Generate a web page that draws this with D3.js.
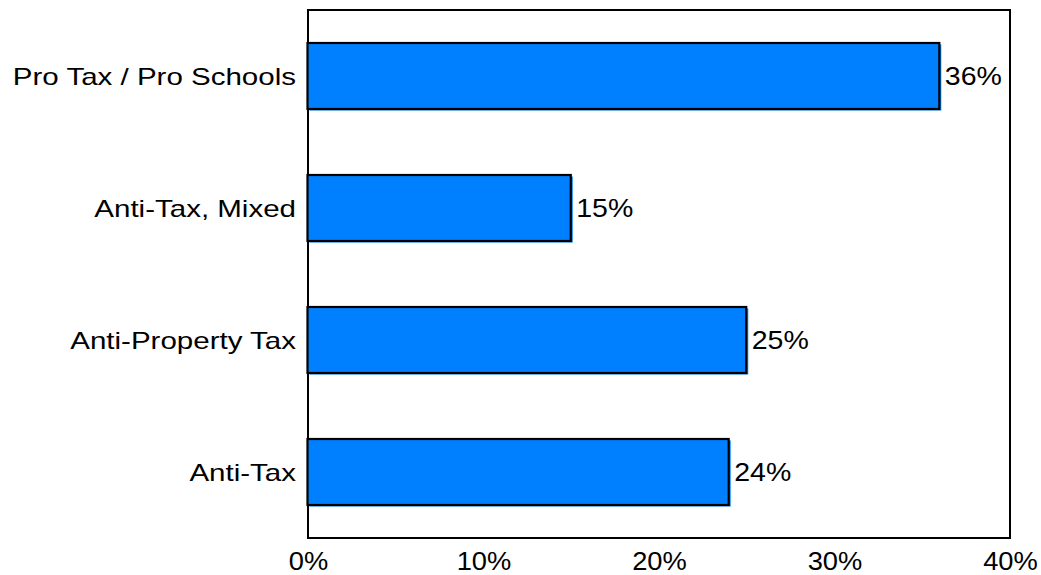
<!DOCTYPE html>
<html>
<head>
<meta charset="utf-8">
<script src="https://cdn.jsdelivr.net/npm/d3@7"></script>
<style>
  html, body { margin: 0; padding: 0; background: #fff; }
  svg { display: block; }
  text { font-family: "Liberation Sans", Arial, sans-serif; fill: #000; }
</style>
</head>
<body>
<svg id="chart" width="1041" height="575"></svg>
<script>
// Survey segments, top to bottom
const categories = ["Pro Tax / Pro Schools", "Anti-Tax, Mixed", "Anti-Property Tax", "Anti-Tax"];
const shares = [36, 15, 25, 24];
const tickValues = [0, 10, 20, 30, 40];
const tickLabels = ["0%", "10%", "20%", "30%", "40%"];

const W = 1041, H = 575;
const plot = { left: 308, right: 1010, top: 10, bottom: 538 };
const barBlue = "#0080ff";
const catStretch = 1.23;
const valStretch = 1.14;

const svg = d3.select("#chart");

const x = d3.scaleLinear().domain([0, 40]).range([plot.left, plot.right]);
const y = d3.scaleBand().domain(categories).range([plot.top, plot.bottom]).paddingInner(0.5).paddingOuter(0.25);

// Plot frame
svg.append("rect")
  .attr("x", plot.left).attr("y", plot.top)
  .attr("width", plot.right - plot.left).attr("height", plot.bottom - plot.top)
  .attr("fill", "none").attr("stroke", "#000").attr("stroke-width", 2);

const rows = categories.map((c, i) => ({ cat: c, v: shares[i] }));

const g = svg.append("g");

// Blue offset edge behind each bar
g.selectAll("rect.edge").data(rows).enter().append("rect")
  .attr("class", "edge")
  .attr("x", x(0) + 1.5)
  .attr("y", d => y(d.cat) + 1.5)
  .attr("width", d => x(d.v) - x(0))
  .attr("height", y.bandwidth())
  .attr("fill", barBlue);

// Bars
g.selectAll("rect.bar").data(rows).enter().append("rect")
  .attr("class", "bar")
  .attr("x", x(0) - 0.5)
  .attr("y", d => y(d.cat))
  .attr("width", d => x(d.v) - x(0))
  .attr("height", y.bandwidth())
  .attr("fill", barBlue)
  .attr("stroke", "#000")
  .attr("stroke-width", 2.2);

// Value labels
g.selectAll("text.val").data(rows).enter().append("text")
  .attr("class", "val")
  .attr("transform", d => `translate(${x(d.v) + 5},${y(d.cat) + y.bandwidth() / 2}) scale(${valStretch},1)`)
  .attr("dy", "0.36em")
  .attr("font-size", 25)
  .text(d => d.v + "%");

// Category axis (labels only)
const yAxis = d3.axisLeft(y).tickSize(0).tickPadding(0);
const yg = svg.append("g").attr("transform", `translate(${plot.left - 12},0)`).call(yAxis);
yg.select(".domain").remove();
yg.selectAll(".tick text")
  .attr("font-size", 24)
  .attr("font-family", "Liberation Sans, Arial, sans-serif")
  .attr("fill", "#000")
  .attr("x", null).attr("dy", "0.36em")
  .attr("text-anchor", "end")
  .attr("transform", `scale(${catStretch},1)`);

// Percent axis (labels only)
const xAxis = d3.axisBottom(x).tickValues(tickValues).tickFormat((d, i) => tickLabels[i]).tickSize(0).tickPadding(0);
const xg = svg.append("g").attr("transform", `translate(0,${plot.bottom})`).call(xAxis);
xg.select(".domain").remove();
xg.selectAll(".tick text")
  .attr("font-size", 26)
  .attr("font-family", "Liberation Sans, Arial, sans-serif")
  .attr("fill", "#000")
  .attr("y", 32).attr("dy", null)
  .attr("transform", `scale(1.05,1)`)
  .attr("x", 0);
</script>
</body>
</html>
